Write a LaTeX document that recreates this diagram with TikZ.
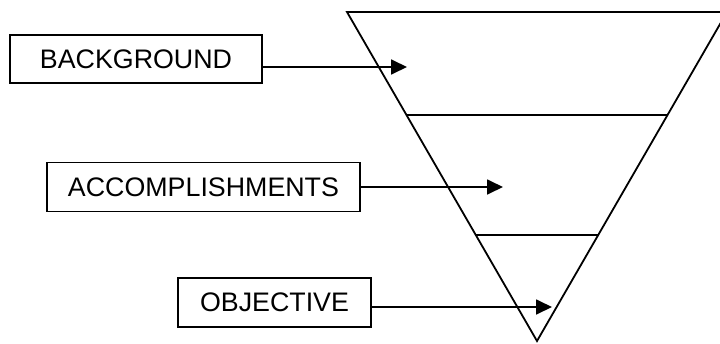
\documentclass[tikz,border=0pt]{standalone}
\usepackage{fontspec}
\setmainfont{Liberation Sans}
\usetikzlibrary{arrows.meta,calc}
\tikzset{
  lbl/.style={draw, line width=1.8pt, inner sep=0pt, font=\fontsize{26.8}{30}\selectfont},
  arr/.style={line width=1.8pt, -{Triangle[length=16pt,width=15pt]}},
  edge/.style={line width=1.8pt}
}
\begin{document}
\begin{tikzpicture}[x=1pt,y=-1pt]
\useasboundingbox (0,0) rectangle (720,343);
\clip (0,0) rectangle (720,343);
% inverted triangle
\coordinate (L) at (347,12);
\coordinate (R) at (727,12);
\coordinate (A) at (537,341);
\draw[edge, line join=miter] (L) -- (R) -- (A) -- cycle;
\coordinate (l1) at ($(L)!0.313!(A)$);
\coordinate (r1) at ($(R)!0.313!(A)$);
\coordinate (l2) at ($(L)!0.678!(A)$);
\coordinate (r2) at ($(R)!0.678!(A)$);
\draw[edge] (l1) -- (r1);
\draw[edge] (l2) -- (r2);
% label boxes
\node[lbl, minimum width=252pt, minimum height=48pt] (bg) at (136,59) {BACKGROUND};
\node[lbl, minimum width=313pt, minimum height=49pt] (acc) at (203.5,187) {ACCOMPLISHMENTS};
\node[lbl, minimum width=193pt, minimum height=49pt] (obj) at (274.5,302.5) {OBJECTIVE};
% arrow tips
\coordinate (t1) at (407,67);
\coordinate (t2) at (503,187);
\coordinate (t3) at (552,307);
\draw[arr] (bg.east |- t1) -- (t1);
\draw[arr] (acc.east |- t2) -- (t2);
\draw[arr] (obj.east |- t3) -- (t3);
\end{tikzpicture}
\end{document}
